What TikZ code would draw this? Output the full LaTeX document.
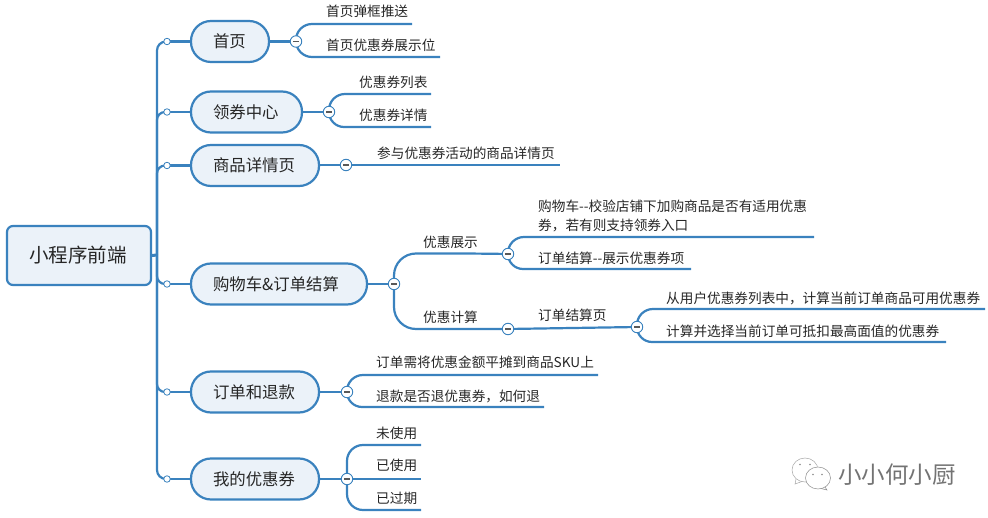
\documentclass[tikz,border=0pt]{standalone}
\usepackage{fontspec}
\setmainfont{Noto Sans CJK SC}
\definecolor{lnblue}{HTML}{3A82BE}
\definecolor{boxfill}{HTML}{EBF2F9}
\definecolor{txt}{HTML}{262626}
\tikzset{
  ln/.style={draw=lnblue,line width=2.2pt},
  rootbox/.style={draw=lnblue,fill=boxfill,line width=2.2pt,rounded corners=6pt,minimum width=144pt,minimum height=59pt,inner sep=0pt,text=txt,font=\fontsize{19.5}{24}\selectfont},
  topic/.style={draw=lnblue,fill=boxfill,line width=2.2pt,rounded corners=20pt,minimum height=41pt,inner ysep=0pt,inner xsep=22pt,text width=#1-44pt,align=left,text=txt,font=\fontsize{16.4}{20}\selectfont},
  dot/.style={circle,draw=lnblue,fill=white,line width=.8pt,minimum size=6.5pt,inner sep=0pt},
  fold/.style={circle,draw=lnblue,fill=white,line width=.9pt,minimum size=11.5pt,inner sep=0pt,
    path picture={\draw[black!65,line width=1.1pt] ([xshift=-2.6pt]path picture bounding box.center) -- ([xshift=2.6pt]path picture bounding box.center);}},
  leaf/.style={anchor=west,inner sep=0pt,text=txt,align=left,font=\fontsize{13.65}{19}\selectfont},
}
\begin{document}
\begin{tikzpicture}[x=1pt,y=-1pt]
\useasboundingbox (0,0) rectangle (988,518);
% coordinates
\coordinate (sp) at (157,255);
\foreach \n/\x/\y in {a1/412/24,a2/440/57,b1/431/94,b2/431/127,c1/560/165,
  d1/475/253.5,d2/475/329,e1/814/237,e2/691/269,f1/985/309,f2/946/342,
  g1/598/375,g2/544/407,h1/421/445,h2/421/479,h3/421/510}
  {\coordinate (\n) at (\x,\y);}
% nodes
\node[rootbox] (root) at (79,255.5) {\hspace*{-2pt}小程序前端};
\node[topic=78pt] (t1) at (230,41.5) {首页};
\node[topic=111pt] (t2) at (246.5,112) {领券中心};
\node[topic=128pt] (t3) at (255,165.5) {商品详情页};
\node[topic=176pt] (t4) at (279,284) {购物车\&订单结算};
\node[topic=128pt] (t5) at (255,392) {订单和退款};
\node[topic=128pt] (t6) at (255,479) {我的优惠券};
\foreach \n/\y in {1/41.5,2/112,3/165.5,4/284,5/392,6/479}
  {\coordinate (s\n) at (167,\y);}
\coordinate (f1c) at (296,41.5);
\coordinate (f2c) at (329,112);
\coordinate (f3c) at (346,165);
\coordinate (f4c) at (394,284);
\coordinate (f5c) at (508,254);
\coordinate (f6c) at (508,329);
\coordinate (f7c) at (637,327);
\coordinate (f8c) at (347,392);
\coordinate (f9c) at (347,479);
% connectors
\draw[ln,line width=3pt] (root.east) -- (sp);
\draw[ln,rounded corners=9pt] (s1) -| (sp) |- (s6);
\foreach \n in {2,3,4,5}{\draw[ln,rounded corners=8pt] (s\n) -| (sp);}
\foreach \n in {1,...,6}{\draw[ln,line width=2.4pt] (s\n) -- (t\n.west);}
\draw[ln] (t1.east) -- (f1c);
\draw[ln] (t2.east) -- (f2c);
\draw[ln] (t3.east |- f3c) -- (f3c) -- (c1);
\draw[ln] (t4.east) -- (f4c);
\draw[ln] (t5.east) -- (f8c);
\draw[ln] (t6.east) -- (f9c) -- (h2);
\draw[ln,rounded corners=16pt] (f1c) |- (a1);
\draw[ln,rounded corners=16pt] (f1c) |- (a2);
\draw[ln,rounded corners=16pt] (f2c) |- (b1);
\draw[ln,rounded corners=15pt] (f2c) |- (b2);
\draw[ln,rounded corners=22pt] (f4c) |- (d1) -- (f5c);
\draw[ln,rounded corners=22pt] (f4c) |- (d2) -- (f6c);
\draw[ln,rounded corners=16pt] (f5c) |- (e1);
\draw[ln,rounded corners=15pt] (f5c) |- (e2);
\draw[ln] (f6c) -- (f7c);
\draw[ln,rounded corners=16pt] (f7c) |- (f1);
\draw[ln,rounded corners=15pt] (f7c) |- (f2);
\draw[ln,rounded corners=16pt] (f8c) |- (g1);
\draw[ln,rounded corners=15pt] (f8c) |- (g2);
\draw[ln,rounded corners=16pt] (f9c) |- (h1);
\draw[ln,rounded corners=16pt] (f9c) |- (h3);
% markers
\foreach \n in {1,...,6}{\node[dot] (dot\n) at (s\n) {};}
\foreach \n in {1,...,9}{\node[fold] (fd\n) at (f\n c) {};}
% leaves
\node[leaf] (l1) at (326,11) {首页弹框推送};
\node[leaf] (l2) at (326,45) {首页优惠券展示位};
\node[leaf] (l3) at (359,82) {优惠券列表};
\node[leaf] (l4) at (359,115) {优惠券详情};
\node[leaf] (l5) at (377,153) {参与优惠券活动的商品详情页};
\node[leaf] (l6) at (423,242) {优惠展示};
\node[leaf] (l7) at (423,317) {优惠计算};
\node[leaf] (l8) at (538,215.5) {购物车{-}{-}校验店铺下加购商品是否有适用优惠\\券，若有则支持领券入口};
\node[leaf] (l9) at (538,258) {订单结算{-}{-}展示优惠券项};
\node[leaf] (l10) at (538,315) {订单结算页};
\node[leaf] (l11) at (666,298) {从用户优惠券列表中，计算当前订单商品可用优惠券};
\node[leaf] (l12) at (666,331) {计算并选择当前订单可抵扣最高面值的优惠券};
\node[leaf] (l13) at (376,362) {订单需将优惠金额平摊到商品SKU上};
\node[leaf] (l14) at (376,396) {退款是否退优惠券，如何退};
\node[leaf] (l15) at (376,433) {未使用};
\node[leaf] (l16) at (376,465) {已使用};
\node[leaf] (l17) at (376,498) {已过期};
% watermark
\node[anchor=west,inner sep=0pt,text=black!55,font=\fontsize{23.5}{28}\selectfont] (wm) at (838,475) {小小何小厨};
\draw[black!35,line width=.5pt,fill=white] (805,470) ellipse [x radius=13,y radius=12];
\draw[black!35,line width=.5pt] (796,479) -- (795,484) -- (802,481.5);
\draw[black!45,line width=.5pt,fill=white] (818,478) ellipse [x radius=12.5,y radius=11];
\draw[black!45,line width=.5pt] (825,487) -- (827,490) -- (821,488.5);
\foreach \p in {(800,464.5),(810,464.5),(813,474.5),(822,474.5)}{\fill[black!45] \p circle (.9pt);}
\end{tikzpicture}
\end{document}
